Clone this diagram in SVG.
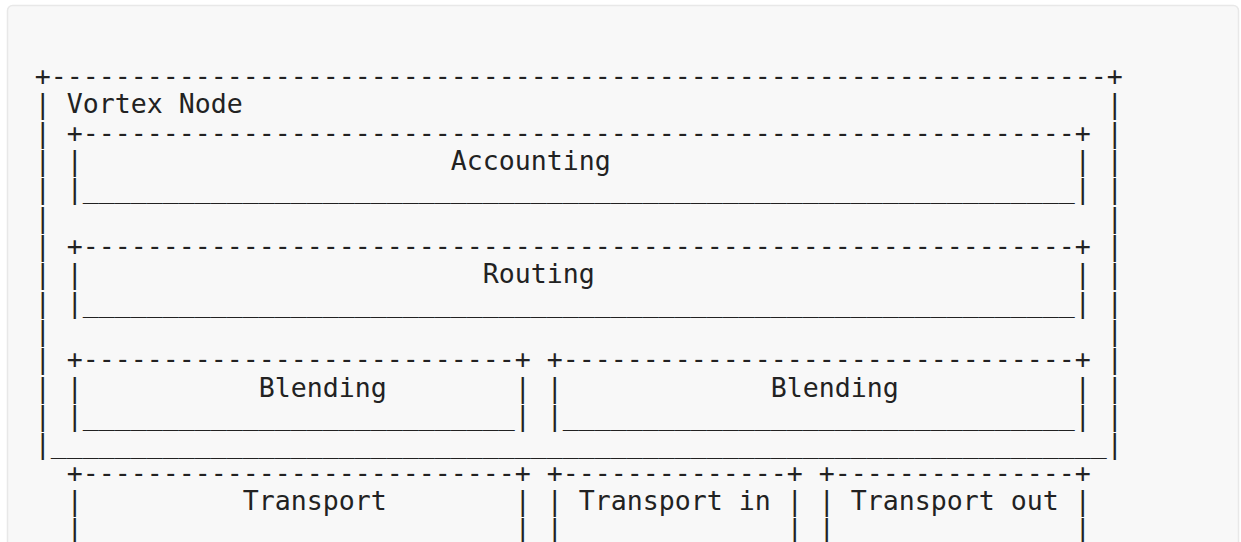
<svg xmlns="http://www.w3.org/2000/svg" width="1241" height="542" viewBox="0 0 1241 542" xml:space="preserve">
<style>
text{font-family:"DejaVu Sans Mono","Liberation Mono",monospace;font-size:26.58px;fill:#222}
</style>
<rect x="0" y="0" width="1241" height="542" fill="#ffffff"/>
<rect x="7.5" y="5.5" width="1231" height="580" rx="5" fill="#f8f8f8" stroke="#e8e8e8" stroke-width="1.5"/>
<g id="vortex-node">
<text x="34.7" y="85">+------------------------------------------------------------------+</text>
<text x="34.7" y="113.33">| Vortex Node</text>
<text x="34.7"><tspan x="34.7" y="141.67">|</tspan><tspan x="34.7" y="170">|</tspan><tspan x="34.7" y="198.33">|</tspan><tspan x="34.7" y="226.67">|</tspan><tspan x="34.7" y="255">|</tspan><tspan x="34.7" y="283.33">|</tspan><tspan x="34.7" y="311.67">|</tspan><tspan x="34.7" y="340">|</tspan><tspan x="34.7" y="368.33">|</tspan><tspan x="34.7" y="396.67">|</tspan><tspan x="34.7" y="425">|</tspan></text>
<text x="1106.7"><tspan x="1106.7" y="113.33">|</tspan><tspan x="1106.7" y="141.67">|</tspan><tspan x="1106.7" y="170">|</tspan><tspan x="1106.7" y="198.33">|</tspan><tspan x="1106.7" y="226.67">|</tspan><tspan x="1106.7" y="255">|</tspan><tspan x="1106.7" y="283.33">|</tspan><tspan x="1106.7" y="311.67">|</tspan><tspan x="1106.7" y="340">|</tspan><tspan x="1106.7" y="368.33">|</tspan><tspan x="1106.7" y="396.67">|</tspan><tspan x="1106.7" y="425">|</tspan></text>
<text x="34.7" y="453.33">|__________________________________________________________________|</text>
</g>
<g id="accounting">
<text x="66.7" y="141.67">+--------------------------------------------------------------+</text>
<text x="66.7" y="170">|</text>
<text x="450.7" y="170">Accounting</text>
<text x="1074.7" y="170">|</text>
<text x="66.7" y="198.33">|______________________________________________________________|</text>
</g>
<g id="routing">
<text x="66.7" y="255">+--------------------------------------------------------------+</text>
<text x="66.7" y="283.33">|</text>
<text x="482.7" y="283.33">Routing</text>
<text x="1074.7" y="283.33">|</text>
<text x="66.7" y="311.67">|______________________________________________________________|</text>
</g>
<g id="blending-left">
<text x="66.7" y="368.33">+---------------------------+</text>
<text x="66.7" y="396.67">|</text>
<text x="258.7" y="396.67">Blending</text>
<text x="514.7" y="396.67">|</text>
<text x="66.7" y="425">|___________________________|</text>
</g>
<g id="blending-right">
<text x="546.7" y="368.33">+--------------------------------+</text>
<text x="546.7" y="396.67">|</text>
<text x="770.7" y="396.67">Blending</text>
<text x="1074.7" y="396.67">|</text>
<text x="546.7" y="425">|________________________________|</text>
</g>
<g id="transport">
<text x="66.7" y="481.67">+---------------------------+</text>
<text x="66.7" y="510">|</text>
<text x="242.7" y="510">Transport</text>
<text x="514.7" y="510">|</text>
<text x="66.7" y="538.33">|</text>
<text x="514.7" y="538.33">|</text>
</g>
<g id="transport-in">
<text x="546.7" y="481.67">+--------------+</text>
<text x="546.7" y="510">| Transport in |</text>
<text x="546.7" y="538.33">|</text>
<text x="786.7" y="538.33">|</text>
</g>
<g id="transport-out">
<text x="818.7" y="481.67">+---------------+</text>
<text x="818.7" y="510">| Transport out |</text>
<text x="818.7" y="538.33">|</text>
<text x="1074.7" y="538.33">|</text>
</g>
</svg>
